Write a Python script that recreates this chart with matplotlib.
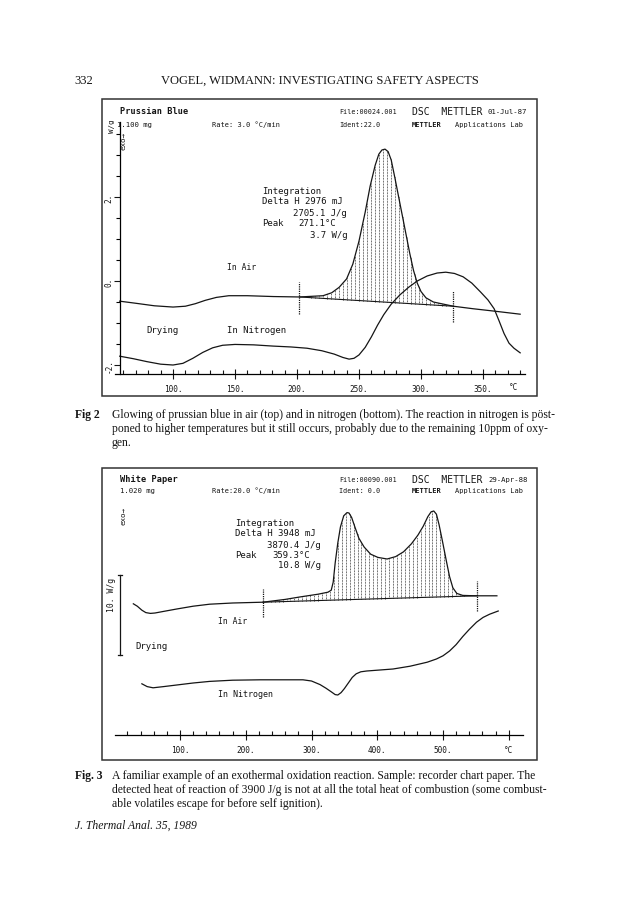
"""Two DSC thermograms (Prussian blue, white paper) laid out as a journal page."""

import matplotlib
matplotlib.use("Agg")
import matplotlib.pyplot as plt
import numpy as np
from matplotlib.patches import Rectangle

W, H = 643, 903
INK = "#151515"
MONO = "DejaVu Sans Mono"
SERIF = "Liberation Serif"

# ---- Fig 2: Prussian blue, heat flow in W/g against temperature in C ----
AIR2_T = [57, 70, 85, 100, 110, 118, 126, 135, 145, 160, 181, 202, 221, 228, 234, 240,
          245, 250, 255, 259, 263, 266, 268.5, 271, 273.5, 276, 279, 282, 285, 288, 291,
          294, 297, 300, 304, 310, 318, 326, 342, 360, 380]
AIR2_V = [-0.48, -0.53, -0.59, -0.62, -0.60, -0.54, -0.46, -0.39, -0.35, -0.35, -0.37,
          -0.38, -0.35, -0.28, -0.15, 0.05, 0.40, 0.95, 1.64, 2.26, 2.75, 3.02, 3.12,
          3.14, 3.08, 2.88, 2.45, 2.00, 1.55, 1.10, 0.65, 0.25, -0.05, -0.25, -0.40,
          -0.50, -0.55, -0.60, -0.66, -0.72, -0.79]
N2_2_T = [57, 68, 79, 90, 100, 108, 116, 124, 132, 140, 150, 165, 181, 195, 208, 220,
          230, 237, 242, 246, 250, 255, 260, 265, 270, 276, 283, 290, 297, 305, 313, 320,
          327, 334, 341, 348, 354, 359, 363, 367, 371, 375, 380]
N2_2_V = [-1.79, -1.85, -1.92, -1.98, -2.00, -1.96, -1.84, -1.70, -1.59, -1.53, -1.51,
          -1.52, -1.55, -1.57, -1.60, -1.66, -1.74, -1.82, -1.86, -1.84, -1.76, -1.58,
          -1.33, -1.05, -0.80, -0.55, -0.33, -0.15, 0.00, 0.12, 0.19, 0.21, 0.18, 0.10,
          -0.05, -0.26, -0.45, -0.66, -0.95, -1.25, -1.48, -1.60, -1.71]
BASE2_T = [202, 326]
BASE2_V = [-0.38, -0.60]
MARK2_T = [202, 326]
MARK2_LO = [-0.79, -0.98]
MARK2_HI = [-0.02, -0.24]
X2_MAJOR = [100, 150, 200, 250, 300, 350]
X2_LABELS = ["100.", "150.", "200.", "250.", "300.", "350."]
Y2_MAJOR = [-2, 0, 2]
Y2_LABELS = ["-2.", "0.", "2."]

# ---- Fig 3: white paper (no y scale, only a 10 W/g bar) ----
AIR3_T = [29, 35, 42, 48, 55, 62, 75, 95, 120, 145, 180, 226, 260, 282, 310, 325, 330,
          333, 336, 340, 344, 349, 354, 357, 361, 366, 372, 380, 390, 401, 415, 428, 440,
          452, 462, 470, 477, 482, 486, 490, 494, 499, 505, 510, 515, 521, 530, 550, 582]
AIR3_V = [16.4, 16.1, 15.6, 15.3, 15.2, 15.25, 15.45, 15.75, 16.1, 16.35, 16.5, 16.6,
          16.95, 17.25, 17.6, 17.85, 18.1, 19.1, 21.5, 24.0, 26.0, 27.4, 27.8, 27.75,
          27.2, 26.0, 24.6, 23.5, 22.6, 22.2, 22.0, 22.3, 22.9, 23.9, 25.0, 26.1, 27.3,
          27.9, 28.0, 27.6, 26.3, 24.3, 21.8, 19.8, 18.4, 17.7, 17.45, 17.4, 17.4]
N2_3_T = [42, 50, 59, 75, 95, 120, 145, 180, 222, 260, 287, 300, 313, 322, 330, 336,
          340, 345, 350, 356, 362, 368, 375, 384, 400, 424, 450, 476, 490, 500, 510, 520,
          530, 540, 551, 561, 571, 584]
N2_3_V = [6.4, 6.05, 5.9, 6.05, 6.25, 6.5, 6.7, 6.85, 6.9, 6.9, 6.9, 6.75, 6.3, 5.85,
          5.4, 5.05, 5.0, 5.3, 5.8, 6.5, 7.2, 7.65, 7.9, 8.0, 8.1, 8.25, 8.6, 9.1, 9.5,
          9.9, 10.5, 11.3, 12.3, 13.2, 14.1, 14.7, 15.1, 15.5]
BASE3_T = [226, 552]
BASE3_V = [16.6, 17.4]
MARK3_T = [226, 552]
MARK3_LO = [14.75, 15.5]
MARK3_HI = [18.25, 19.25]
X3_MAJOR = [100, 200, 300, 400, 500, 600]
X3_LABELS = ["100.", "200.", "300.", "400.", "500.", "°C"]
SCALE_BAR = [10, 20]

CAPTION2 = [
    "Glowing of prussian blue in air (top) and in nitrogen (bottom). The reaction in nitrogen is pöst-",
    "poned to higher temperatures but it still occurs, probably due to the remaining 10ppm of oxy-",
    "gen.",
]
CAPTION3 = [
    "A familiar example of an exothermal oxidation reaction. Sample: recorder chart paper. The",
    "detected heat of reaction of 3900 J/g is not at all the total heat of combustion (some combust-",
    "able volatiles escape for before self ignition).",
]


def fx(x):
    return x / W


def fy(y):
    return 1 - y / H


def ptext(fig, x, y, s, size=6.5, family=MONO, **kw):
    kw.setdefault("va", "center")
    kw.setdefault("ha", "left")
    fig.text(fx(x), fy(y), s, fontsize=size, family=family, color=INK, **kw)


def axes_px(fig, left, top, right, bottom):
    return fig.add_axes([fx(left), fy(bottom), (right - left) / W, (bottom - top) / H])


def hatch(ax, t_curve, v_curve, t_base, v_base, step):
    ts = np.arange(t_base[0] + step, t_base[1], step)
    top = np.interp(ts, t_curve, v_curve)
    bot = np.interp(ts, t_base, v_base)
    keep = top > bot + 0.02
    ax.vlines(ts[keep], bot[keep], top[keep], colors=INK, linewidth=0.55,
              linestyles=(0, (1, 1)))


def header(fig, y1, y2, name, mass, rate, file, ident, date, left_mass):
    ptext(fig, 120, y1, name, size=6.2, weight="bold")
    ptext(fig, left_mass, y2, mass, size=5.2)
    ptext(fig, 212, y2, rate, size=5.0)
    ptext(fig, 339, y1, file, size=4.9)
    ptext(fig, 339, y2, ident, size=4.9)
    ptext(fig, 412, y1, "DSC  METTLER", size=7.0)
    ptext(fig, 488, y1, date, size=5.2)
    ptext(fig, 412, y2, "METTLER", size=5.0, weight="bold")
    ptext(fig, 455, y2, "Applications Lab", size=5.0)


def style_xaxis(ax, major, labels, minor):
    ax.set_xticks(major)
    ax.set_xticklabels(labels, family=MONO, fontsize=5.6, color=INK)
    ax.set_xticks(minor, minor=True)
    ax.tick_params(axis="x", which="major", direction="inout", length=7, width=0.8,
                   pad=4, colors=INK)
    ax.tick_params(axis="x", which="minor", direction="in", length=3, width=0.8,
                   colors=INK)
    for side in ("top", "right"):
        ax.spines[side].set_visible(False)
    ax.spines["bottom"].set_linewidth(0.9)
    ax.patch.set_alpha(0)


fig = plt.figure(figsize=(W / 100, H / 100), dpi=100)

# page header
fig.text(fx(74), fy(81), "332", fontsize=9, family=SERIF, color=INK, va="center")
fig.text(fx(320), fy(81), "VOGEL, WIDMANN: INVESTIGATING SAFETY ASPECTS", fontsize=9,
         family=SERIF, color=INK, va="center", ha="center")

# frames
for top, bot in [(100, 397), (469, 761)]:
    fig.add_artist(Rectangle((fx(102), fy(bot)), (537 - 102) / W, (bot - top) / H,
                             transform=fig.transFigure, fill=False, lw=1.1,
                             edgecolor="#333333"))

# ---------------- Fig 2 ----------------
ax2 = axes_px(fig, 115, 123, 525, 375)
ax2.set_xlim(53.2, 383.9)
ax2.set_ylim(-2.214, 3.786)
ax2.plot(AIR2_T, AIR2_V, color=INK, lw=0.9)
ax2.plot(N2_2_T, N2_2_V, color=INK, lw=0.9)
ax2.plot(BASE2_T, BASE2_V, color=INK, lw=0.8)
hatch(ax2, AIR2_T, AIR2_V, BASE2_T, BASE2_V, 3.2)
ax2.vlines(MARK2_T, MARK2_LO, MARK2_HI, colors=INK, lw=0.9, linestyles=(0, (1, 0.8)))
style_xaxis(ax2, X2_MAJOR, X2_LABELS, np.arange(60, 390, 10))
ax2.spines["left"].set_position(("data", 57.3))
ax2.spines["left"].set_linewidth(0.9)
ax2.set_yticks(Y2_MAJOR)
ax2.set_yticklabels(Y2_LABELS, family=MONO, fontsize=5.6, rotation=90, va="center",
                    color=INK)
ax2.set_yticks(np.arange(-2, 4, 0.5), minor=True)
ax2.tick_params(axis="y", which="major", direction="out", length=4, width=0.8, pad=0.5,
                colors=INK)
ax2.tick_params(axis="y", which="minor", direction="out", length=3, width=0.8)

ptext(fig, 112, 126, "W/g", size=5.4, rotation=90, ha="center")
ptext(fig, 124, 141, "exo\u2192", size=5.4, rotation=90, ha="center")
header(fig, 112, 125, "Prussian Blue", "1.100 mg", "Rate: 3.0 °C/min",
       "File:00024.001", "Ident:22.0", "01-Jul-87", 117)
ptext(fig, 262, 191, "Integration")
ptext(fig, 262, 202, "Delta H 2976 mJ")
ptext(fig, 293, 213, "2705.1 J/g")
ptext(fig, 262, 224, "Peak")
ptext(fig, 298, 224, "271.1°C")
ptext(fig, 310, 235, "3.7 W/g")
ptext(fig, 227, 268, "In Air", size=5.8)
ptext(fig, 146, 331, "Drying")
ptext(fig, 227, 331, "In Nitrogen")
ptext(fig, 509, 388, "°C", size=5.6)

# caption 2
ptext(fig, 75, 415, "Fig 2", size=8.4, family=SERIF, weight="bold")
for i, line in enumerate(CAPTION2):
    ptext(fig, 112, 415 + 14 * i, line, size=8.4, family=SERIF)

# ---------------- Fig 3 ----------------
ax3 = axes_px(fig, 115, 480, 523, 736)
ax3.set_xlim(1.1, 621.7)
ax3.set_ylim(0, 32)
ax3.plot(AIR3_T, AIR3_V, color=INK, lw=0.9)
ax3.plot(N2_3_T, N2_3_V, color=INK, lw=0.9)
ax3.plot(BASE3_T, BASE3_V, color=INK, lw=0.8)
hatch(ax3, AIR3_T, AIR3_V, BASE3_T, BASE3_V, 6.0)
ax3.vlines(MARK3_T, MARK3_LO, MARK3_HI, colors=INK, lw=0.9, linestyles=(0, (1, 0.8)))
style_xaxis(ax3, X3_MAJOR, X3_LABELS, np.arange(20, 620, 20))
ax3.spines["left"].set_visible(False)
ax3.set_yticks([])
# 10 W/g scale bar
ax3.plot([8.7, 8.7], SCALE_BAR, color=INK, lw=0.9)
ax3.plot([6.2, 11.2], [SCALE_BAR[0]] * 2, color=INK, lw=0.9)
ax3.plot([6.2, 11.2], [SCALE_BAR[1]] * 2, color=INK, lw=0.9)

ptext(fig, 112, 595, "10. W/g", size=5.8, rotation=90, ha="center")
ptext(fig, 124, 516, "exo\u2192", size=5.4, rotation=90, ha="center")
header(fig, 480, 491, "White Paper", "1.020 mg", "Rate:20.0 °C/min",
       "File:00090.001", "Ident: 0.0", "29-Apr-88", 120)
ptext(fig, 235, 523, "Integration")
ptext(fig, 235, 534, "Delta H 3948 mJ")
ptext(fig, 267, 545, "3870.4 J/g")
ptext(fig, 235, 555, "Peak")
ptext(fig, 272, 555, "359.3°C")
ptext(fig, 278, 566, "10.8 W/g")
ptext(fig, 218, 622, "In Air", size=5.8)
ptext(fig, 135, 647, "Drying")
ptext(fig, 218, 695, "In Nitrogen", size=6.0)

# caption 3
ptext(fig, 75, 776, "Fig. 3", size=8.4, family=SERIF, weight="bold")
for i, line in enumerate(CAPTION3):
    ptext(fig, 112, 776 + 14 * i, line, size=8.4, family=SERIF)
ptext(fig, 75, 826, "J. Thermal Anal. 35, 1989", size=8.4, family=SERIF, style="italic")

fig.savefig("out.png", dpi=100)
